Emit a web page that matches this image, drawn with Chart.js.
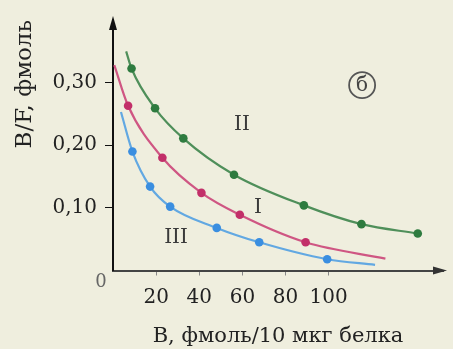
<!DOCTYPE html>
<html>
<head>
<meta charset="utf-8">
<script src="https://cdn.jsdelivr.net/npm/chart.js@4/dist/chart.umd.min.js"></script>
<style>
html,body{margin:0;padding:0;background:#efeede;}
#wrap{width:453px;height:349px;position:relative;}
</style>
</head>
<body>
<div id="wrap"><canvas id="c"></canvas></div>
<script>
// Series II (green)
const xII = [8.6, 19.5, 32.6, 56.1, 88.5, 115.2, 141.3];
const yII = [0.3225, 0.259, 0.211, 0.153, 0.104, 0.074, 0.059];
const curveStartII = [6.1, 0.350];
const curveEndII = [141.3, 0.059];
// Series I (red)
const xI = [7.0, 22.9, 41.0, 58.8, 89.3];
const yI = [0.263, 0.180, 0.124, 0.089, 0.045];
const curveStartI = [0.6, 0.328];
const curveEndI = [126.3, 0.019];
// Series III (blue)
const xIII = [9.0, 17.2, 26.5, 48.1, 67.8, 99.3];
const yIII = [0.190, 0.134, 0.102, 0.068, 0.045, 0.018];
const curveStartIII = [3.7, 0.253];
const curveEndIII = [121.5, 0.009];

const xTickLabels = [20, 40, 60, 80, 100];
const yTickLabels = [0.1, 0.2, 0.3];
const xTitle = 'B, фмоль/10 мкг белка';
const yTitle = 'B/F, фмоль';
const seriesNames = ['II', 'I', 'III'];
const panelLabel = 'б';

const SERIF = '"DejaVu Serif", "Liberation Serif", serif';
const TXT = '#222222';
const FS = 20;

function pts(xs, ys) { return xs.map((x, i) => ({x: x, y: ys[i]})); }
function curve(s, xs, ys, e) {
  const p = pts(xs, ys);
  const out = [{x: s[0], y: s[1]}].concat(p);
  const last = p[p.length - 1];
  if (last.x !== e[0] || last.y !== e[1]) out.push({x: e[0], y: e[1]});
  return out;
}

const cols = {
  II: {line: '#4f8f5a', pt: '#2e7b3f'},
  I: {line: '#cf5683', pt: '#c22f69'},
  III: {line: '#62a8e2', pt: '#3a8ee0'}
};

function lineDs(data, c) {
  return {type: 'line', data: data, borderColor: c.line, borderWidth: 2.2, pointRadius: 0,
    tension: 0.4, cubicInterpolationMode: 'monotone', fill: false, order: 2};
}
function ptDs(data, c) {
  return {type: 'scatter', data: data, backgroundColor: c.pt, borderColor: c.pt,
    pointRadius: 4.3, borderWidth: 0, order: 1};
}

const near = (v, arr) => arr.some(a => Math.abs(a - v) < 1e-6);

const deco = {
  id: 'deco',
  afterDraw(chart) {
    const ctx = chart.ctx;
    const xs = chart.scales.x, ys = chart.scales.y;
    const a = chart.chartArea;
    ctx.save();
    // arrows
    ctx.fillStyle = '#111';
    ctx.beginPath();
    ctx.moveTo(a.left, a.top - 4);
    ctx.lineTo(a.left - 4, a.top + 10);
    ctx.lineTo(a.left + 4, a.top + 10);
    ctx.closePath(); ctx.fill();
    ctx.fillStyle = '#333';
    ctx.beginPath();
    ctx.moveTo(a.right + 4, a.bottom);
    ctx.lineTo(a.right - 10, a.bottom - 4);
    ctx.lineTo(a.right - 10, a.bottom + 4);
    ctx.closePath(); ctx.fill();
    // origin label
    ctx.fillStyle = '#666';
    ctx.font = '18px ' + SERIF;
    ctx.textAlign = 'center'; ctx.textBaseline = 'middle';
    ctx.fillText('0', a.left - 12, a.bottom + 12);
    // series labels
    ctx.fillStyle = '#3a3a3a';
    ctx.font = FS + 'px ' + SERIF;
    const lab = [[59.8, 0.232], [67.2, 0.100], [29.2, 0.053]];
    seriesNames.forEach((n, i) => {
      ctx.fillText(n, xs.getPixelForValue(lab[i][0]), ys.getPixelForValue(lab[i][1]));
    });
    // circled panel label
    const cx = xs.getPixelForValue(115.5), cy = ys.getPixelForValue(0.296);
    ctx.strokeStyle = '#555'; ctx.lineWidth = 1.8;
    ctx.beginPath(); ctx.arc(cx, cy, 13, 0, Math.PI * 2); ctx.stroke();
    ctx.fillStyle = '#444';
    ctx.font = FS + 'px ' + SERIF;
    ctx.fillText(panelLabel, cx, cy + 1);
    ctx.restore();
  }
};

new Chart(document.getElementById('c'), {
  data: {
    datasets: [
      lineDs(curve(curveStartII, xII, yII, curveEndII), cols.II),
      lineDs(curve(curveStartI, xI, yI, curveEndI), cols.I),
      lineDs(curve(curveStartIII, xIII, yIII, curveEndIII), cols.III),
      ptDs(pts(xII, yII), cols.II),
      ptDs(pts(xI, yI), cols.I),
      ptDs(pts(xIII, yIII), cols.III)
    ]
  },
  options: {
    responsive: true,
    maintainAspectRatio: false,
    animation: false,
    layout: {padding: {top: 16.5, right: 8, left: 0, bottom: 0}},
    plugins: {legend: {display: false}, tooltip: {enabled: false}},
    scales: {
      x: {
        type: 'linear', min: 0, max: 153,
        afterFit(s) { s.height = 78.5; },
        border: {display: true, color: '#444', width: 2},
        grid: {drawOnChartArea: false, tickLength: 5,
          tickColor: c => near(c.tick.value, xTickLabels) ? '#888' : 'rgba(0,0,0,0)'},
        ticks: {stepSize: 20, padding: 10, color: TXT, maxRotation: 0, autoSkip: false,
          font: {family: SERIF, size: FS},
          callback: v => near(v, xTickLabels) ? String(v) : ''},
        title: {display: true, text: xTitle, color: TXT, font: {family: SERIF, size: 21},
          padding: {top: 0, bottom: 0}}
      },
      y: {
        type: 'linear', min: 0, max: 0.40,
        afterFit(s) { s.width = 113; },
        border: {display: true, color: '#111', width: 2},
        grid: {drawOnChartArea: false, tickLength: 8,
          tickColor: c => near(c.tick.value, yTickLabels) ? '#111' : 'rgba(0,0,0,0)'},
        ticks: {stepSize: 0.1, padding: 8, color: TXT, autoSkip: false,
          font: {family: SERIF, size: FS},
          callback: v => near(v, yTickLabels) ? v.toFixed(2).replace('.', ',') : ''},
        title: {display: true, text: yTitle, color: TXT, align: 'end',
          font: {family: SERIF, size: 23}, padding: {top: 11, bottom: 0}}
      }
    }
  },
  plugins: [deco]
});
</script>
</body>
</html>
